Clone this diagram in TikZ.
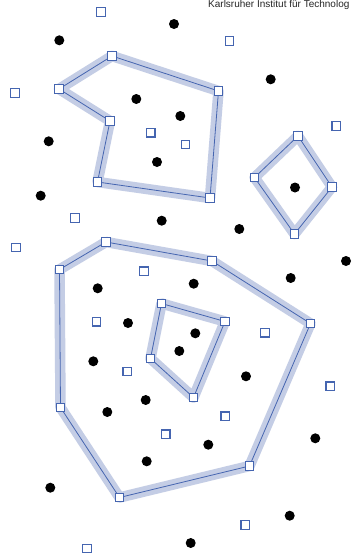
\documentclass[tikz,border=0pt]{standalone}
\usepackage{fontspec}
\setmainfont{Liberation Sans}
\definecolor{kitblue}{HTML}{4565B0}
\definecolor{halo}{HTML}{C4CDE5}
\begin{document}
\begin{tikzpicture}[x=1pt,y=-1pt,
  sq/.style={draw=kitblue,fill=white,line width=1.2pt,minimum size=8.5pt,inner sep=0pt,rectangle},
  dot/.style={circle,fill=black,minimum size=10pt,inner sep=0pt},
  haloline/.style={halo,line width=10.5pt,line join=round,line cap=round},
  edge/.style={kitblue,line width=0.8pt,line join=round}]
\useasboundingbox (0,0) rectangle (351,554);
\clip (0,0) rectangle (351,554);
\fill[white] (0,0) rectangle (351,554);
% polygon A
\coordinate (a1) at (112,56);
\coordinate (a2) at (218.5,91);
\coordinate (a3) at (210,198);
\coordinate (a4) at (97.5,182);
\coordinate (a5) at (110,121);
\coordinate (a6) at (59,89);
% polygon B
\coordinate (b1) at (298,136);
\coordinate (b2) at (332,187);
\coordinate (b3) at (294.5,234);
\coordinate (b4) at (254.5,177.5);
% polygon C
\coordinate (c1) at (106,242);
\coordinate (c2) at (212,261);
\coordinate (c3) at (310.5,323.5);
\coordinate (c4) at (249.5,466);
\coordinate (c5) at (119.5,497.5);
\coordinate (c6) at (60.5,407.5);
\coordinate (c7) at (59.5,269.5);
% polygon D
\coordinate (d1) at (161.5,303.5);
\coordinate (d2) at (225,321.5);
\coordinate (d3) at (193.5,397.5);
\coordinate (d4) at (150.5,358.5);
% halos
\draw[haloline] (a1) -- (a2) -- (a3) -- (a4) -- (a5) -- (a6) -- cycle;
\draw[haloline] (b1) -- (b2) -- (b3) -- (b4) -- cycle;
\draw[haloline] (c1) -- (c2) -- (c3) -- (c4) -- (c5) -- (c6) -- (c7) -- cycle;
\draw[haloline] (d1) -- (d2) -- (d3) -- (d4) -- cycle;
% edges
\draw[edge] (a1) -- (a2) -- (a3) -- (a4) -- (a5) -- (a6) -- cycle;
\draw[edge] (b1) -- (b2) -- (b3) -- (b4) -- cycle;
\draw[edge] (c1) -- (c2) -- (c3) -- (c4) -- (c5) -- (c6) -- (c7) -- cycle;
\draw[edge] (d1) -- (d2) -- (d3) -- (d4) -- cycle;
% vertex squares
\foreach \v in {a1,a2,a3,a4,a5,a6,b1,b2,b3,b4,c1,c2,c3,c4,c5,c6,c7,d1,d2,d3,d4}
  \node[sq] (\v n) at (\v) {};
% free squares
\foreach \p [count=\i] in {(101,12),(229.5,41),(15,93),(150.7,132.7),(185.5,144.5),(336.3,126),(75,218),(16,247.5),(144,271.3),(96.5,321.7),(265,332.7),(127.3,371.5),(330.3,386.3),(225.3,416.3),(165.7,434.3),(245.3,525),(87,548.5)}
  \node[sq] (s\i) at \p {};
% dots
\foreach \p [count=\i] in {(174,24),(59.3,40.3),(270.7,79.3),(136.3,99),(180.3,116),(48.7,141.3),(157,162),(40.7,195.7),(295,187.5),(161.7,220.7),(239.3,229),(346,261),(290.7,278),(97.7,288.3),(193.7,283.7),(128,323),(195.3,333.3),(179.3,351),(93.3,361.3),(246,376.3),(145.7,400),(107.3,412),(315.3,438.3),(208.3,444.7),(146.7,461.3),(50.3,487.7),(289.7,515.7),(190.7,543)}
  \node[dot] (p\i) at \p {};
% header text
\node[anchor=base west,inner sep=0pt,font=\fontsize{10}{12}\selectfont,text=black!85] (kit) at (208,8) {Karlsruher Institut für Technolog};
\end{tikzpicture}
\end{document}
